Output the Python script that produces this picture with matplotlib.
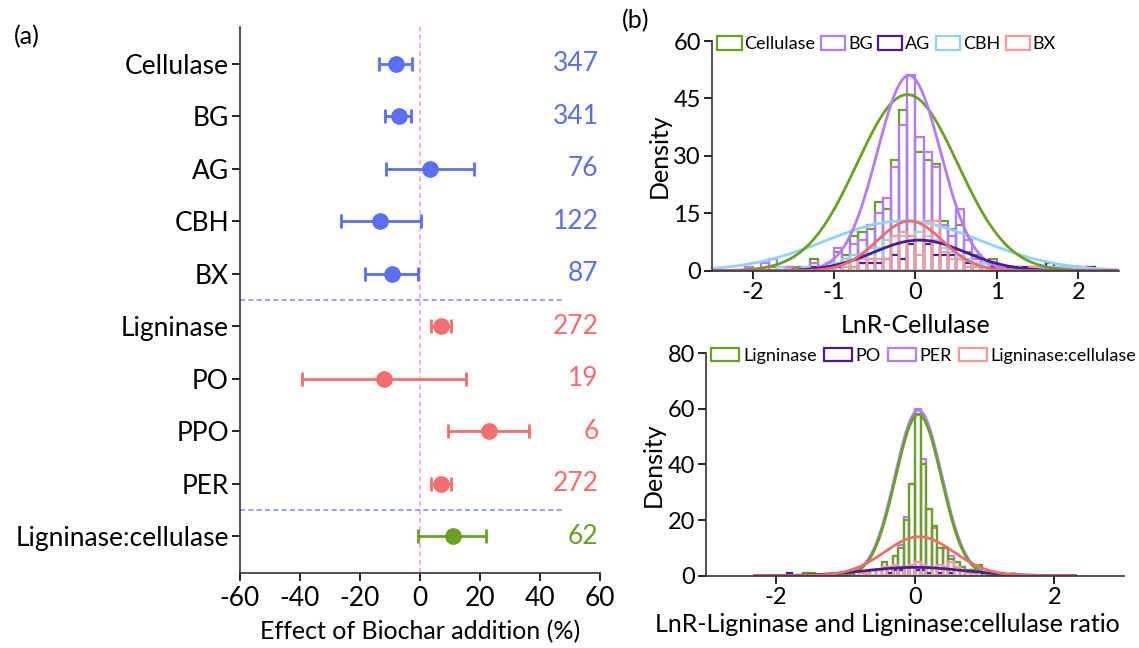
import numpy as np
import matplotlib
matplotlib.use("Agg")
import matplotlib.pyplot as plt
from matplotlib.patches import Patch

plt.rcParams['font.family'] = ['Lato', 'DejaVu Sans']
plt.rcParams['axes.unicode_minus'] = False

# ---------------- panel (a) data ----------------
enzymes = ['Cellulase', 'BG', 'AG', 'CBH', 'BX',
           'Ligninase', 'PO', 'PPO', 'PER', 'Ligninase:cellulase']
effect = [-8.1, -7.1, 3.5, -13.2, -9.2, 6.9, -12.1, 23.1, 6.9, 10.9]
ci_low = [-13.7, -11.7, -11.4, -26.3, -18.4, 3.6, -39.3, 9.3, 3.6, -0.6]
ci_high = [-2.6, -2.9, 18.1, 0.5, -0.5, 10.5, 15.2, 36.5, 10.5, 22.0]
n_obs = [347, 341, 76, 122, 87, 272, 19, 6, 272, 62]
group = ['cel', 'cel', 'cel', 'cel', 'cel', 'lig', 'lig', 'lig', 'lig', 'ratio']

# ---------------- panel (b) top: LnR cellulase histograms ----------------
top_start, top_width = -2.1, 0.1
cellulase_h = [0, 0, 0, 1, 0, 1, 1, 0, 3, 1, 2, 5, 4, 9, 10, 11, 18, 16, 29, 42, 46,
               31, 29, 28, 13, 11, 12, 5, 4, 2, 3, 1, 0, 1, 0, 1]
bg_h = [1, 0, 2, 3, 0, 1, 0, 0, 2, 1, 2, 6, 3, 7, 8, 12, 15, 19, 27, 38, 51,
        35, 31, 27, 12, 9, 16, 8, 3, 2, 2, 1, 0, 1, 0, 1, 1]
ag_h = [0, 0, 0, 0, 0, 0, 0, 0, 1, 1, 1, 1, 2, 1, 2, 2, 2, 3, 4, 3, 7,
        8, 7, 4, 4, 4, 3, 2, 2, 2, 1, 1, 1, 1, 1, 0, 0, 2, 1, 0, 1, 1, 1]
cbh_h = [0, 0, 0, 0, 1, 0, 0, 1, 0, 1, 2, 2, 3, 4, 4, 6, 6, 8, 7, 9, 9,
         10, 9, 8, 6, 5, 4, 3, 2, 2, 2, 1, 0, 1, 0, 1, 1, 1, 1, 1, 1, 1]
bx_h = [0, 0, 0, 0, 0, 0, 0, 0, 0, 0, 0, 0, 1, 1, 3, 3, 3, 3, 9, 10, 9,
        4, 13, 13, 5, 3, 3, 1, 1, 1, 0, 0, 0, 0, 0, 1]
# fitted normal curves: (peak, mean, sd)
top_fits = {'Cellulase': (46, -0.1, 0.62), 'BG': (51, -0.08, 0.39),
            'AG': (8, 0.05, 0.56), 'CBH': (13, -0.15, 0.95), 'BX': (13, -0.07, 0.40)}

# ---------------- panel (b) bottom: LnR ligninase histograms ----------------
bot_start, bot_width = -2.0, 0.08
ligninase_h = [0, 0, 0, 0, 0, 1, 1, 0, 0, 0, 0, 0, 0, 1, 0, 0, 1, 2, 2, 5, 3,
               7, 10, 20, 33, 58, 40, 24, 18, 10, 10, 6, 5, 3, 2, 2, 4, 1, 0, 0, 1]
po_h = [0, 0, 1, 0, 0, 0, 0, 0, 0, 0, 0, 0, 0, 0, 0, 0, 0, 0, 0, 0, 1,
        2, 2, 3, 3, 2, 2, 1, 0, 1, 0, 1]
per_h = [0, 0, 0, 0, 0, 1, 1, 0, 0, 0, 0, 0, 0, 1, 0, 0, 1, 2, 2, 5, 3,
         7, 11, 21, 33, 60, 42, 24, 17, 10, 10, 7, 5, 3, 2, 2, 3, 1, 0, 0, 1]
ratio_h = [0, 0, 0, 0, 0, 0, 0, 0, 0, 0, 0, 0, 0, 0, 0, 1, 1, 0, 2, 3, 3,
           4, 3, 3, 4, 5, 4, 3, 3, 4, 3, 5, 3, 2, 1, 1, 0, 0, 1, 0, 0, 0, 1]
bot_fits = {'Ligninase': (58, 0.05, 0.33), 'PO': (3, 0.0, 0.7),
            'PER': (59.5, 0.05, 0.335), 'Ligninase:cellulase': (14, 0.06, 0.5)}

# ---------------- colours ----------------
c_blue = '#5b6ff5'
c_red = '#f56e6e'
c_green = '#6aa121'
c_violet = '#b57bff'
c_dark = '#4b1a9e'
c_sky = '#8fd3fa'
c_pink = '#f99a9a'
group_color = {'cel': c_blue, 'lig': c_red, 'ratio': c_green}

fig = plt.figure(figsize=(11.39, 6.48), dpi=100)

# ================= panel (a) =================
ax = fig.add_axes([0.2107, 0.1157, 0.316, 0.8426])
ypos = np.arange(len(enzymes))
for i, name in enumerate(enzymes):
    col = group_color[group[i]]
    err = [[effect[i] - ci_low[i]], [ci_high[i] - effect[i]]]
    ax.errorbar(effect[i], ypos[i], xerr=err, fmt='o', ms=11, color=col,
                elinewidth=2, capsize=5, capthick=2)
    ax.text(59.5, ypos[i], str(n_obs[i]), color=col, ha='right', va='center', fontsize=19)

ax.axvline(0, color='#f9a0e0', lw=1.2, ls=(0, (3, 2)), zorder=0)
ax.plot([-60, 48], [4.5, 4.5], color='#8a8cff', lw=1.2, ls=(0, (3, 2)), clip_on=False)
ax.plot([-60, 48], [8.5, 8.5], color='#8a8cff', lw=1.2, ls=(0, (3, 2)), clip_on=False)

ax.set_xlim(-60, 60)
ax.set_ylim(9.7, -0.7)
ax.set_xticks(np.arange(-60, 61, 20))
ax.set_yticks(ypos)
ax.set_yticklabels(enzymes, fontsize=19)
ax.tick_params(axis='x', labelsize=19, length=6, width=1.2)
ax.tick_params(axis='y', length=6, width=1.2, pad=2)
for s in ['top', 'right']:
    ax.spines[s].set_visible(False)
for s in ['left', 'bottom']:
    ax.spines[s].set_linewidth(1.2)
    ax.spines[s].set_color('#333333')
ax.set_xlabel('Effect of Biochar addition (%)', fontsize=18, labelpad=6)
fig.text(0.012, 0.932, '(a)', fontsize=18)
fig.text(0.546, 0.957, '(b)', fontsize=18)


def draw_hist(ax, start, width, heights, color, lw=1.6):
    edges = start + width * np.arange(len(heights))
    ax.bar(edges, heights, width=width, align='edge', fill=False,
           edgecolor=color, linewidth=lw)


def draw_fit(ax, fit, color, xlim):
    peak, mu, sd = fit
    xs = np.linspace(xlim[0], xlim[1], 400)
    ax.plot(xs, peak * np.exp(-0.5 * ((xs - mu) / sd) ** 2), color=color, lw=2)


def style(ax):
    for s in ['top', 'right']:
        ax.spines[s].set_visible(False)
    for s in ['left', 'bottom']:
        ax.spines[s].set_linewidth(1.2)
        ax.spines[s].set_color('#333333')
    ax.tick_params(labelsize=17, length=6, width=1.2, pad=2)
    ax.set_ylabel('Density', fontsize=18, labelpad=2)


# ================= panel (b) top =================
ax1 = fig.add_axes([0.6251, 0.5822, 0.3573, 0.3545])
top_series = [('Cellulase', cellulase_h, c_green), ('BG', bg_h, c_violet),
              ('AG', ag_h, c_dark), ('CBH', cbh_h, c_sky), ('BX', bx_h, c_pink)]
for name, h, col in top_series:
    draw_hist(ax1, top_start, top_width, h, col)
curve_col = {'Cellulase': c_green, 'BG': c_violet, 'AG': c_dark, 'CBH': c_sky, 'BX': '#f26b6b'}
for name in ['CBH', 'Cellulase', 'BG', 'AG', 'BX']:
    draw_fit(ax1, top_fits[name], curve_col[name], (-2.5, 2.5))
ax1.set_xlim(-2.5, 2.5)
ax1.set_ylim(0, 60)
ax1.set_yticks([0, 15, 30, 45, 60])
ax1.set_xticks([-2, -1, 0, 1, 2])
style(ax1)
ax1.set_xlabel('LnR-Cellulase', fontsize=18, labelpad=8)
handles = [Patch(facecolor='none', edgecolor=col, linewidth=1.6) for _, _, col in top_series]
ax1.legend(handles, [n for n, _, _ in top_series], loc='upper left', bbox_to_anchor=(0.0, 1.045),
           ncol=5, frameon=False, fontsize=13, handlelength=1.35, handleheight=0.8,
           handletextpad=0.15, columnspacing=0.3, borderpad=0.1, borderaxespad=0.2)

# ================= panel (b) bottom =================
ax2 = fig.add_axes([0.6198, 0.1116, 0.367, 0.3432])
bot_series = [('Ligninase', ligninase_h, c_green), ('PO', po_h, c_dark),
              ('PER', per_h, c_violet), ('Ligninase:cellulase', ratio_h, c_pink)]
draw_hist(ax2, bot_start, bot_width, per_h, c_violet)
draw_hist(ax2, bot_start, bot_width, ligninase_h, c_green)
draw_hist(ax2, bot_start, bot_width, po_h, c_dark)
draw_hist(ax2, bot_start, bot_width, ratio_h, c_pink)
bcurve_col = {'Ligninase': c_green, 'PO': c_dark, 'PER': c_violet, 'Ligninase:cellulase': '#f26b6b'}
for name in ['PER', 'Ligninase', 'PO', 'Ligninase:cellulase']:
    draw_fit(ax2, bot_fits[name], bcurve_col[name], (-2.3, 2.3))
ax2.set_xlim(-3, 3)
ax2.set_ylim(0, 80)
ax2.set_yticks([0, 20, 40, 60, 80])
ax2.set_xticks([-2, 0, 2])
style(ax2)
ax2.set_xlabel('LnR-Ligninase and Ligninase:cellulase ratio', fontsize=18)
ax2.xaxis.set_label_coords(0.435, -0.17)
handles = [Patch(facecolor='none', edgecolor=col, linewidth=1.6) for _, _, col in bot_series]
ax2.legend(handles, [n for n, _, _ in bot_series], loc='upper left', bbox_to_anchor=(0.0, 1.05),
           ncol=4, frameon=False, fontsize=13, handlelength=1.55, handleheight=0.8,
           handletextpad=0.2, columnspacing=0.4, borderpad=0.1, borderaxespad=0.2)

fig.savefig('out.png', dpi=100)
